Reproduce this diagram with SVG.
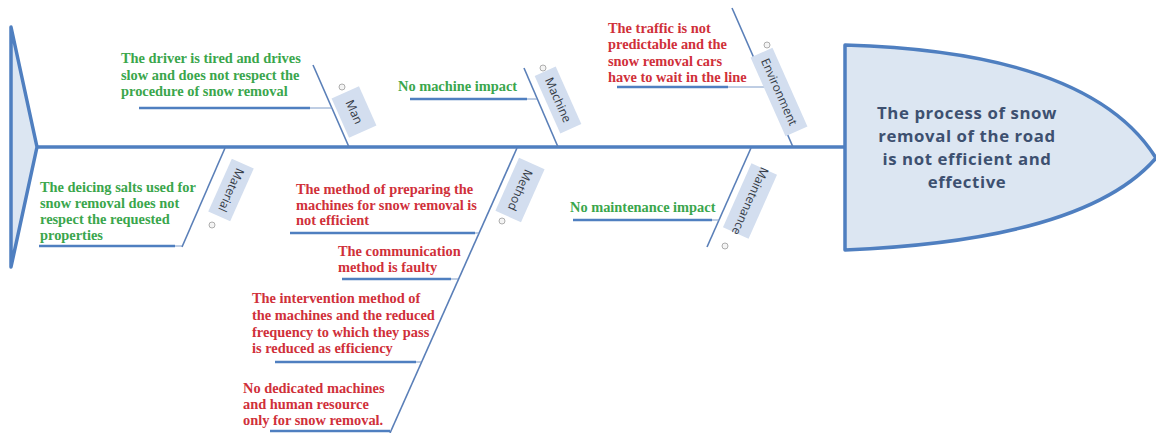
<svg xmlns="http://www.w3.org/2000/svg" width="1156" height="433" viewBox="0 0 1156 433">
<style>
.sp{stroke:#4f7fc0;stroke-width:3.5;fill:none}
.bone{stroke:#5a7fb8;stroke-width:1.6;fill:none}
.br{stroke:#4f7fc0;stroke-width:2.6;fill:none}
.thin{stroke:#7f9cc8;stroke-width:1;fill:none}
.box{fill:#d3deef}
.lbl{font-family:"Open Sans",sans-serif;font-size:12px;fill:#333a45;text-anchor:middle}
.ic{fill:#f4f4f4;stroke:#9a9a9a;stroke-width:0.8}
.g{font-family:"Liberation Serif",serif;font-weight:bold;font-size:14.4px;fill:#3aa64c}
.r{font-family:"Liberation Serif",serif;font-weight:bold;font-size:14.4px;fill:#d0303a}
.head{font-family:"Open Sans",sans-serif;font-weight:bold;font-size:16.8px;letter-spacing:0.6px;fill:#3d5070;text-anchor:middle}
</style>
<rect width="1156" height="433" fill="#ffffff"/>
<g id="tail">
<path d="M11,27 L37,147 L11,267 Z" fill="#dce6f2" stroke="#4f7fc0" stroke-width="3.5" stroke-linejoin="round"/>
</g>
<g id="connectors">
<line class="sp" x1="37" y1="147" x2="846" y2="147"/>
<line class="bone" x1="313" y1="65" x2="349" y2="147"/>
<line class="bone" x1="524" y1="68" x2="558" y2="147"/>
<line class="bone" x1="732" y1="8" x2="793" y2="147"/>
<line class="bone" x1="225" y1="148" x2="182" y2="247"/>
<line class="bone" x1="517" y1="148" x2="390" y2="433"/>
<line class="bone" x1="751" y1="148" x2="707" y2="247"/>
<line class="br" x1="139" y1="108" x2="310" y2="108"/><line class="thin" x1="310" y1="108" x2="332" y2="108"/>
<line class="br" x1="410" y1="99" x2="527" y2="99"/><line class="thin" x1="527" y1="99" x2="537" y2="99"/>
<line class="br" x1="617" y1="87" x2="728" y2="87"/><line class="thin" x1="728" y1="87" x2="766" y2="87"/>
<line class="br" x1="39" y1="246" x2="175" y2="246"/><line class="thin" x1="175" y1="246" x2="182" y2="246"/>
<line class="br" x1="290" y1="233" x2="475" y2="233"/><line class="thin" x1="475" y1="233" x2="479" y2="233"/>
<line class="br" x1="342" y1="279" x2="451" y2="279"/><line class="thin" x1="451" y1="279" x2="458" y2="279"/>
<line class="br" x1="275" y1="362" x2="416" y2="362"/><line class="thin" x1="416" y1="362" x2="421" y2="362"/>
<line class="br" x1="270" y1="431" x2="390" y2="431"/>
<line class="br" x1="573" y1="220" x2="712" y2="220"/><line class="thin" x1="712" y1="220" x2="719" y2="220"/>
</g>
<g id="head">
<path d="M845,45 Q1090,52 1156,158 Q1085,240 845,250 Z" fill="#dce6f2" stroke="#4f7fc0" stroke-width="3.5" stroke-linejoin="round"/>
<text class="head" x="967" y="119">The process of snow</text>
<text class="head" x="967" y="142">removal of the road</text>
<text class="head" x="967" y="165">is not efficient and</text>
<text class="head" x="967" y="188">effective</text>
</g>
<g id="man">
<g transform="translate(354,112) rotate(66)"><rect class="box" x="-21.5" y="-15" width="43" height="30"/><text class="lbl" x="0" y="4">Man</text></g>
<circle class="ic" cx="342" cy="87" r="3"/>
<text class="g" x="121" y="63">The driver is tired and drives</text>
<text class="g" x="121" y="80">slow and does not respect the</text>
<text class="g" x="121" y="96">procedure of snow removal</text>
</g>
<g id="machine">
<g transform="translate(558,100) rotate(66)"><rect class="box" x="-31.5" y="-11.5" width="63" height="23"/><text class="lbl" x="0" y="4">Machine</text></g>
<circle class="ic" cx="543" cy="68" r="3"/>
<text class="g" x="398" y="91">No machine impact</text>
</g>
<g id="environment">
<g transform="translate(779,92) rotate(66)"><rect class="box" x="-43" y="-12" width="86" height="24"/><text class="lbl" x="0" y="4">Environment</text></g>
<circle class="ic" cx="767" cy="45" r="3"/>
<text class="r" x="608" y="33">The traffic is not</text>
<text class="r" x="608" y="49">predictable and the</text>
<text class="r" x="608" y="66">snow removal cars</text>
<text class="r" x="608" y="82">have to wait in the line</text>
</g>
<g id="material">
<g transform="translate(231,190) rotate(114)"><rect class="box" x="-29" y="-12" width="58" height="24"/><text class="lbl" x="0" y="4">Material</text></g>
<circle class="ic" cx="212" cy="225" r="3"/>
<text class="g" x="40" y="192">The deicing salts used for</text>
<text class="g" x="40" y="208">snow removal does not</text>
<text class="g" x="40" y="224">respect the requested</text>
<text class="g" x="40" y="240">properties</text>
</g>
<g id="method">
<g transform="translate(520,190) rotate(114)"><rect class="box" x="-29" y="-14" width="58" height="28"/><text class="lbl" x="0" y="4">Method</text></g>
<circle class="ic" cx="502" cy="221" r="3"/>
<text class="r" x="296" y="194">The method of preparing the</text>
<text class="r" x="296" y="210">machines for snow removal is</text>
<text class="r" x="296" y="225">not efficient</text>
<text class="r" x="338" y="256">The communication</text>
<text class="r" x="338" y="272">method is faulty</text>
<text class="r" x="252" y="303">The intervention method of</text>
<text class="r" x="252" y="320">the machines and the reduced</text>
<text class="r" x="252" y="337">frequency to which they pass</text>
<text class="r" x="252" y="353">is reduced as efficiency</text>
<text class="r" x="243" y="393">No dedicated machines</text>
<text class="r" x="243" y="409">and human resource</text>
<text class="r" x="243" y="425">only for snow removal.</text>
</g>
<g id="maintenance">
<g transform="translate(750,201) rotate(114)"><rect class="box" x="-35" y="-14" width="70" height="28"/><text class="lbl" x="0" y="4">Maintenance</text></g>
<circle class="ic" cx="725" cy="246" r="3"/>
<text class="g" x="570" y="212">No maintenance impact</text>
</g>
</svg>
